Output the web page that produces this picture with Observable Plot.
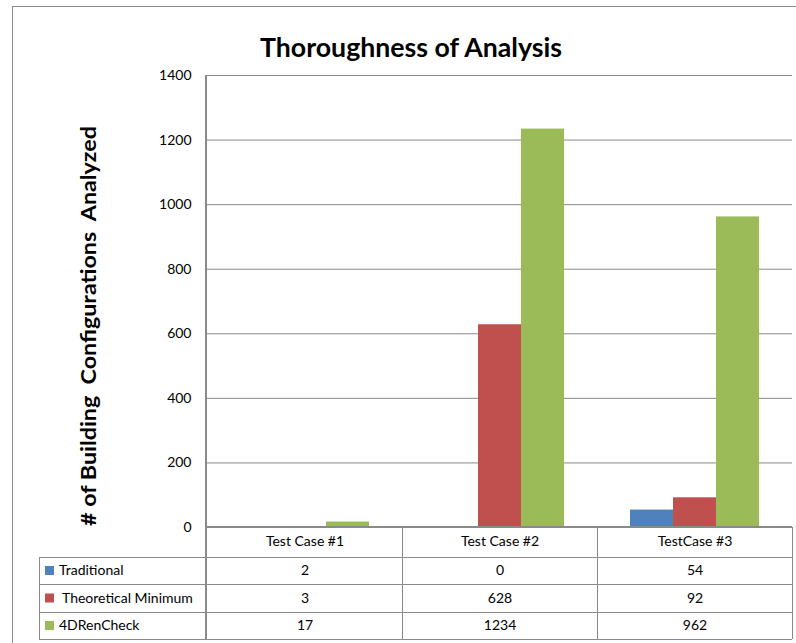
<!DOCTYPE html>
<html><head><meta charset="utf-8">
<script src="https://cdn.jsdelivr.net/npm/d3@7"></script>
<script src="https://cdn.jsdelivr.net/npm/@observablehq/plot@0.6"></script>
<style>html,body{margin:0;padding:0;background:#fff}svg{display:block}</style>
</head><body><div id="chart"></div>
<script>
// ---- data ----
const cases = ["Test Case #1", "Test Case #2", "TestCase #3"];
const series = ["Traditional", "Theoretical Minimum", "4DRenCheck"];
const traditional = [2, 0, 54];
const theoreticalMinimum = [3, 628, 92];
const renCheck = [17, 1234, 962];
const colors = ["#4F81BD", "#C0504D", "#9BBB59"];
const yTicks = [0, 200, 400, 600, 800, 1000, 1200, 1400];
const title = "Thoroughness of Analysis";
const yLabel = "# of Building  Configurations  Analyzed";

const values = [traditional, theoreticalMinimum, renCheck];
const data = cases.flatMap((c, i) => series.map((s, j) => ({case: c, series: s, value: values[j][i]})));

// ---- layout ----
const W = 796, H = 643;
const mL = 206, mR = 4, mT = 75, mB = 116;
const plotBottom = H - mB;       // 527
const rowLines = [557, 584, 612, 639];
const rowDy = [43.5, 71, 98.5];
const headerDy = 15;
const textShift = 4;
const font = "Lato, 'Open Sans', sans-serif";
const fs = 14;
const gridColor = "#8a8a8a";

const plot = Plot.plot({
  width: W, height: H,
  marginLeft: mL, marginRight: mR, marginTop: mT, marginBottom: mB,
  style: {fontFamily: font, fontSize: fs + "px", color: "#000", background: "#fff", overflow: "visible"},
  fx: {domain: cases, padding: 0, axis: null, label: null},
  x: {domain: series, paddingInner: 0, paddingOuter: 0.75, axis: null},
  y: {domain: [0, 1400], ticks: yTicks, tickSize: 0, tickPadding: 16, label: null, tickFormat: d => String(d)},
  color: {domain: series, range: colors},
  marks: [
    Plot.ruleY(yTicks.filter(d => d > 0), {stroke: gridColor, strokeWidth: 1}),
    Plot.barY(data, {fx: "case", x: "series", y: "value", fill: "series"}),
    Plot.text(cases, {fx: d => d, text: d => d, frameAnchor: "bottom", dy: headerDy + textShift - 1, fill: "#000", fontSize: fs}),
    ...series.map((s, j) => Plot.text(data.filter(d => d.series === s), {
      fx: "case", text: d => String(d.value), frameAnchor: "bottom", dy: rowDy[j] + textShift, fill: "#000", fontSize: fs
    }))
  ]
});
document.getElementById("chart").appendChild(plot);

// ---- decorations: title, y label, data table frame, legend keys ----
const svg = d3.select(plot);
let colEdges;
try {
  const fx = plot.scale("fx");
  colEdges = cases.map(c => fx.apply(c) + mL);
  const bw = fx.bandwidth;
  colEdges.push(colEdges[colEdges.length - 1] + bw);
  if (colEdges.some(v => !isFinite(v))) throw 0;
} catch (e) {
  const step = (W - mL - mR) / cases.length;
  colEdges = d3.range(cases.length + 1).map(i => mL + i * step);
}
if (colEdges[0] > mL + 50) colEdges = colEdges.map(v => v - mL);
const right = W - mR;
const tableLeft = 39;

const g = svg.append("g").attr("fill", "none").attr("stroke", gridColor).attr("shape-rendering", "crispEdges");
// outer chart border
g.append("path").attr("d", `M12.5,${H}V6.5H${W}`).attr("stroke", "#8c8c8c");
// table horizontal lines
rowLines.forEach(y => g.append("line").attr("x1", tableLeft).attr("x2", right).attr("y1", y).attr("y2", y));
// axis line at 0
g.append("line").attr("x1", mL).attr("x2", right).attr("y1", plotBottom).attr("y2", plotBottom).attr("stroke-width", 1.5);
// vertical lines
g.append("line").attr("x1", mL).attr("x2", mL).attr("y1", mT).attr("y2", rowLines[3]).attr("stroke-width", 1.5);
g.append("line").attr("x1", tableLeft).attr("x2", tableLeft).attr("y1", rowLines[0]).attr("y2", rowLines[3]);
colEdges.slice(1).forEach(x => g.append("line").attr("x1", x).attr("x2", x).attr("y1", plotBottom).attr("y2", rowLines[3]));

// legend keys in table
series.forEach((s, j) => {
  const cy = plotBottom + rowDy[j];
  svg.append("rect").attr("x", 45).attr("y", cy - 4.5).attr("width", 9).attr("height", 9).attr("fill", colors[j]);
  svg.append("text").attr("x", j === 1 ? 62 : 59).attr("y", cy).attr("dy", "0.35em")
    .attr("text-anchor", "start")
    .attr("font-family", font).attr("font-size", fs).attr("fill", "#000").text(s);
});

// title
svg.append("text").attr("x", 411).attr("y", 57).attr("text-anchor", "middle")
  .attr("font-family", font).attr("font-weight", 700).attr("font-size", 26)
  .attr("textLength", 302).attr("lengthAdjust", "spacingAndGlyphs").attr("fill", "#000").text(title);

// y label
svg.append("text").attr("transform", "translate(96,326) rotate(-90)").attr("text-anchor", "middle")
  .attr("font-family", font).attr("font-weight", 700).attr("font-size", 20)
  .attr("textLength", 400).attr("lengthAdjust", "spacingAndGlyphs").attr("fill", "#000")
  .attr("xml:space", "preserve").style("white-space", "pre").text(yLabel);
</script>
</body></html>
